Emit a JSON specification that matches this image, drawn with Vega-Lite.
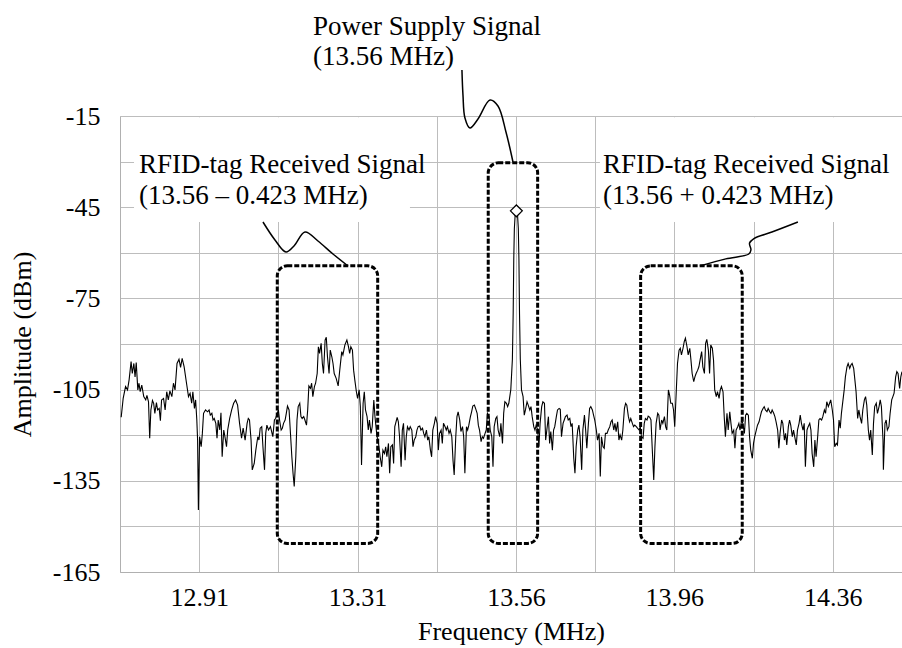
{
  "$schema": "https://vega.github.io/schema/vega-lite/v6.json",
  "width": 782,
  "height": 456,
  "autosize": "none",
  "padding": {"left": 120, "top": 116, "right": 0, "bottom": 76},
  "background": "white",
  "config": {
    "view": {"stroke": null},
    "font": "Liberation Serif",
    "axis": {
      "gridColor": "#bdbdbd",
      "gridWidth": 1,
      "domainColor": "#b0b0b0",
      "domainWidth": 1,
      "ticks": false,
      "tickSize": 0,
      "labelFont": "Liberation Serif",
      "labelFontSize": 26,
      "labelColor": "#000000",
      "titleFont": "Liberation Serif",
      "titleFontSize": 26,
      "titleFontWeight": "normal",
      "titleColor": "#000000",
      "labelOverlap": false,
      "labelFlush": false
    }
  },
  "datasets": {
    "trace": [
      {"freq":12.563,"amp":-114.1},{"freq":12.568,"amp":-107.9},{"freq":12.574,"amp":-104.0},{"freq":12.579,"amp":-105.1},{"freq":12.583,"amp":-101.8},{"freq":12.588,"amp":-95.8},{"freq":12.591,"amp":-99.7},{"freq":12.595,"amp":-96.4},{"freq":12.598,"amp":-100.8},{"freq":12.601,"amp":-96.1},
      {"freq":12.605,"amp":-105.1},{"freq":12.608,"amp":-102.9},{"freq":12.611,"amp":-105.7},{"freq":12.615,"amp":-103.5},{"freq":12.620,"amp":-107.3},{"freq":12.625,"amp":-108.4},{"freq":12.628,"amp":-106.9},{"freq":12.632,"amp":-109.0},{"freq":12.635,"amp":-121.0},{"freq":12.638,"amp":-111.7},
      {"freq":12.642,"amp":-108.6},{"freq":12.645,"amp":-109.5},{"freq":12.648,"amp":-112.8},{"freq":12.652,"amp":-109.3},{"freq":12.655,"amp":-111.7},{"freq":12.659,"amp":-111.2},{"freq":12.662,"amp":-115.2},{"freq":12.665,"amp":-108.4},{"freq":12.670,"amp":-107.9},{"freq":12.674,"amp":-111.7},
      {"freq":12.678,"amp":-105.7},{"freq":12.682,"amp":-108.4},{"freq":12.686,"amp":-105.4},{"freq":12.691,"amp":-107.3},{"freq":12.695,"amp":-102.9},{"freq":12.699,"amp":-105.1},{"freq":12.704,"amp":-96.4},{"freq":12.709,"amp":-95.0},{"freq":12.713,"amp":-97.7},{"freq":12.717,"amp":-94.7},
      {"freq":12.722,"amp":-97.5},{"freq":12.728,"amp":-102.9},{"freq":12.733,"amp":-107.3},{"freq":12.737,"amp":-106.2},{"freq":12.741,"amp":-109.5},{"freq":12.744,"amp":-105.7},{"freq":12.748,"amp":-111.2},{"freq":12.751,"amp":-108.4},{"freq":12.754,"amp":-115.0},{"freq":12.756,"amp":-121.6},
      {"freq":12.758,"amp":-144.6},{"freq":12.761,"amp":-120.5},{"freq":12.765,"amp":-123.8},{"freq":12.768,"amp":-119.4},{"freq":12.771,"amp":-112.8},{"freq":12.776,"amp":-111.7},{"freq":12.781,"amp":-112.3},{"freq":12.785,"amp":-111.7},{"freq":12.788,"amp":-113.4},{"freq":12.792,"amp":-112.8},
      {"freq":12.795,"amp":-115.0},{"freq":12.798,"amp":-114.5},{"freq":12.802,"amp":-116.1},{"freq":12.805,"amp":-121.0},{"freq":12.808,"amp":-115.0},{"freq":12.812,"amp":-118.3},{"freq":12.815,"amp":-112.6},{"freq":12.818,"amp":-127.1},{"freq":12.822,"amp":-118.3},{"freq":12.825,"amp":-120.5},
      {"freq":12.829,"amp":-123.8},{"freq":12.832,"amp":-118.3},{"freq":12.837,"amp":-114.5},{"freq":12.842,"amp":-111.7},{"freq":12.847,"amp":-109.5},{"freq":12.852,"amp":-108.4},{"freq":12.857,"amp":-110.1},{"freq":12.862,"amp":-116.1},{"freq":12.867,"amp":-121.0},{"freq":12.871,"amp":-117.7},
      {"freq":12.876,"amp":-121.6},{"freq":12.881,"amp":-116.1},{"freq":12.884,"amp":-114.5},{"freq":12.887,"amp":-115.0},{"freq":12.891,"amp":-121.6},{"freq":12.894,"amp":-131.4},{"freq":12.899,"amp":-129.3},{"freq":12.903,"amp":-124.9},{"freq":12.908,"amp":-120.5},{"freq":12.911,"amp":-121.6},
      {"freq":12.914,"amp":-117.7},{"freq":12.918,"amp":-117.2},{"freq":12.921,"amp":-123.8},{"freq":12.925,"amp":-131.4},{"freq":12.928,"amp":-119.4},{"freq":12.931,"amp":-116.7},{"freq":12.935,"amp":-118.3},{"freq":12.940,"amp":-117.2},{"freq":12.943,"amp":-118.8},{"freq":12.946,"amp":-120.5},
      {"freq":12.950,"amp":-115.0},{"freq":12.953,"amp":-114.5},{"freq":12.957,"amp":-112.8},{"freq":12.960,"amp":-111.7},{"freq":12.963,"amp":-115.0},{"freq":12.967,"amp":-118.3},{"freq":12.970,"amp":-117.7},{"freq":12.973,"amp":-116.1},{"freq":12.977,"amp":-115.0},{"freq":12.980,"amp":-112.8},
      {"freq":12.983,"amp":-110.4},{"freq":12.987,"amp":-111.7},{"freq":12.990,"amp":-118.3},{"freq":12.994,"amp":-127.1},{"freq":12.997,"amp":-132.5},{"freq":13.000,"amp":-136.9},{"freq":13.004,"amp":-127.1},{"freq":13.007,"amp":-115.0},{"freq":13.010,"amp":-110.6},{"freq":13.014,"amp":-109.5},
      {"freq":13.017,"amp":-113.9},{"freq":13.020,"amp":-114.5},{"freq":13.024,"amp":-113.9},{"freq":13.027,"amp":-115.0},{"freq":13.031,"amp":-116.7},{"freq":13.034,"amp":-111.7},{"freq":13.037,"amp":-103.8},{"freq":13.041,"amp":-104.6},{"freq":13.044,"amp":-102.9},{"freq":13.047,"amp":-107.3},
      {"freq":13.051,"amp":-104.0},{"freq":13.054,"amp":-102.9},{"freq":13.058,"amp":-99.7},{"freq":13.061,"amp":-90.9},{"freq":13.064,"amp":-93.1},{"freq":13.068,"amp":-89.8},{"freq":13.071,"amp":-96.4},{"freq":13.074,"amp":-99.7},{"freq":13.078,"amp":-88.7},{"freq":13.081,"amp":-87.8},
      {"freq":13.084,"amp":-94.2},{"freq":13.088,"amp":-99.7},{"freq":13.091,"amp":-92.0},{"freq":13.095,"amp":-94.2},{"freq":13.098,"amp":-96.4},{"freq":13.101,"amp":-99.7},{"freq":13.106,"amp":-101.3},{"freq":13.111,"amp":-103.8},{"freq":13.115,"amp":-98.6},{"freq":13.120,"amp":-92.5},
      {"freq":13.123,"amp":-93.6},{"freq":13.128,"amp":-90.3},{"freq":13.133,"amp":-88.7},{"freq":13.137,"amp":-90.9},{"freq":13.140,"amp":-93.1},{"freq":13.143,"amp":-90.9},{"freq":13.147,"amp":-92.0},{"freq":13.150,"amp":-98.6},{"freq":13.153,"amp":-101.8},{"freq":13.157,"amp":-105.7},
      {"freq":13.160,"amp":-107.9},{"freq":13.164,"amp":-105.1},{"freq":13.167,"amp":-110.6},{"freq":13.170,"amp":-129.8},{"freq":13.174,"amp":-109.5},{"freq":13.177,"amp":-105.7},{"freq":13.180,"amp":-111.7},{"freq":13.184,"amp":-113.9},{"freq":13.187,"amp":-118.3},{"freq":13.190,"amp":-115.0},
      {"freq":13.194,"amp":-119.4},{"freq":13.197,"amp":-117.2},{"freq":13.201,"amp":-108.4},{"freq":13.204,"amp":-113.9},{"freq":13.209,"amp":-120.5},{"freq":13.212,"amp":-121.6},{"freq":13.217,"amp":-127.1},{"freq":13.221,"amp":-130.4},{"freq":13.224,"amp":-124.9},{"freq":13.228,"amp":-126.0},
      {"freq":13.231,"amp":-123.8},{"freq":13.234,"amp":-127.1},{"freq":13.238,"amp":-122.7},{"freq":13.241,"amp":-132.5},{"freq":13.244,"amp":-123.8},{"freq":13.248,"amp":-123.2},{"freq":13.251,"amp":-129.3},{"freq":13.254,"amp":-117.2},{"freq":13.260,"amp":-114.1},{"freq":13.263,"amp":-115.6},
      {"freq":13.266,"amp":-120.5},{"freq":13.270,"amp":-130.4},{"freq":13.273,"amp":-118.3},{"freq":13.276,"amp":-116.1},{"freq":13.280,"amp":-128.2},{"freq":13.283,"amp":-120.5},{"freq":13.286,"amp":-117.2},{"freq":13.290,"amp":-118.3},{"freq":13.293,"amp":-117.2},{"freq":13.297,"amp":-118.3},
      {"freq":13.300,"amp":-123.8},{"freq":13.303,"amp":-121.6},{"freq":13.307,"amp":-120.5},{"freq":13.310,"amp":-118.3},{"freq":13.313,"amp":-117.2},{"freq":13.317,"amp":-117.0},{"freq":13.320,"amp":-118.3},{"freq":13.324,"amp":-117.7},{"freq":13.327,"amp":-119.4},{"freq":13.330,"amp":-120.5},
      {"freq":13.334,"amp":-118.3},{"freq":13.337,"amp":-121.6},{"freq":13.340,"amp":-120.5},{"freq":13.344,"amp":-124.9},{"freq":13.347,"amp":-127.1},{"freq":13.350,"amp":-118.3},{"freq":13.354,"amp":-116.1},{"freq":13.357,"amp":-113.9},{"freq":13.361,"amp":-116.1},{"freq":13.364,"amp":-124.9},
      {"freq":13.367,"amp":-119.4},{"freq":13.371,"amp":-118.3},{"freq":13.374,"amp":-122.7},{"freq":13.377,"amp":-116.1},{"freq":13.381,"amp":-117.2},{"freq":13.384,"amp":-118.3},{"freq":13.387,"amp":-117.2},{"freq":13.391,"amp":-119.4},{"freq":13.394,"amp":-118.3},{"freq":13.398,"amp":-120.5},
      {"freq":13.401,"amp":-128.2},{"freq":13.404,"amp":-133.1},{"freq":13.408,"amp":-120.5},{"freq":13.411,"amp":-113.9},{"freq":13.414,"amp":-112.3},{"freq":13.418,"amp":-115.0},{"freq":13.421,"amp":-118.8},{"freq":13.425,"amp":-117.2},{"freq":13.428,"amp":-120.5},{"freq":13.431,"amp":-132.5},
      {"freq":13.435,"amp":-117.2},{"freq":13.438,"amp":-118.3},{"freq":13.441,"amp":-116.7},{"freq":13.445,"amp":-113.9},{"freq":13.448,"amp":-112.3},{"freq":13.451,"amp":-110.4},{"freq":13.455,"amp":-110.1},{"freq":13.458,"amp":-111.2},{"freq":13.462,"amp":-112.8},{"freq":13.465,"amp":-116.7},
      {"freq":13.468,"amp":-118.3},{"freq":13.472,"amp":-122.1},{"freq":13.475,"amp":-120.5},{"freq":13.478,"amp":-121.0},{"freq":13.482,"amp":-119.4},{"freq":13.485,"amp":-118.3},{"freq":13.488,"amp":-112.8},{"freq":13.492,"amp":-113.9},{"freq":13.495,"amp":-118.3},{"freq":13.499,"amp":-120.5},
      {"freq":13.502,"amp":-130.4},{"freq":13.505,"amp":-117.2},{"freq":13.509,"amp":-114.5},{"freq":13.512,"amp":-113.9},{"freq":13.515,"amp":-118.3},{"freq":13.519,"amp":-120.5},{"freq":13.522,"amp":-116.1},{"freq":13.526,"amp":-122.7},{"freq":13.529,"amp":-112.8},{"freq":13.532,"amp":-109.0},
      {"freq":13.536,"amp":-109.5},{"freq":13.539,"amp":-110.6},{"freq":13.542,"amp":-109.5},{"freq":13.547,"amp":-105.0},{"freq":13.551,"amp":-95.0},{"freq":13.553,"amp":-80.0},{"freq":13.5545,"amp":-62.0},{"freq":13.556,"amp":-52.0},{"freq":13.558,"amp":-47.5},{"freq":13.561,"amp":-46.0},
      {"freq":13.564,"amp":-47.5},{"freq":13.566,"amp":-52.0},{"freq":13.5675,"amp":-62.0},{"freq":13.569,"amp":-80.0},{"freq":13.571,"amp":-95.0},{"freq":13.574,"amp":-105.1},{"freq":13.578,"amp":-107.3},{"freq":13.581,"amp":-113.4},{"freq":13.584,"amp":-111.7},{"freq":13.588,"amp":-109.0},
      {"freq":13.591,"amp":-110.1},{"freq":13.595,"amp":-111.7},{"freq":13.598,"amp":-110.6},{"freq":13.601,"amp":-113.9},{"freq":13.605,"amp":-117.2},{"freq":13.608,"amp":-118.3},{"freq":13.611,"amp":-116.7},{"freq":13.615,"amp":-118.3},{"freq":13.618,"amp":-123.8},{"freq":13.621,"amp":-116.1},
      {"freq":13.625,"amp":-110.6},{"freq":13.628,"amp":-109.0},{"freq":13.632,"amp":-109.5},{"freq":13.635,"amp":-121.6},{"freq":13.638,"amp":-118.3},{"freq":13.642,"amp":-113.9},{"freq":13.645,"amp":-122.7},{"freq":13.648,"amp":-118.8},{"freq":13.652,"amp":-124.9},{"freq":13.655,"amp":-118.3},
      {"freq":13.658,"amp":-117.2},{"freq":13.662,"amp":-113.9},{"freq":13.665,"amp":-111.7},{"freq":13.669,"amp":-111.2},{"freq":13.672,"amp":-111.5},{"freq":13.675,"amp":-120.5},{"freq":13.679,"amp":-116.1},{"freq":13.682,"amp":-115.0},{"freq":13.685,"amp":-113.9},{"freq":13.689,"amp":-113.4},
      {"freq":13.692,"amp":-115.0},{"freq":13.696,"amp":-114.5},{"freq":13.699,"amp":-117.2},{"freq":13.702,"amp":-116.1},{"freq":13.706,"amp":-127.6},{"freq":13.709,"amp":-132.5},{"freq":13.712,"amp":-123.8},{"freq":13.716,"amp":-118.3},{"freq":13.719,"amp":-116.7},{"freq":13.722,"amp":-120.5},
      {"freq":13.726,"amp":-131.4},{"freq":13.729,"amp":-118.3},{"freq":13.733,"amp":-113.4},{"freq":13.736,"amp":-118.3},{"freq":13.739,"amp":-124.3},{"freq":13.743,"amp":-116.1},{"freq":13.746,"amp":-111.2},{"freq":13.749,"amp":-110.6},{"freq":13.753,"amp":-111.7},{"freq":13.756,"amp":-113.4},
      {"freq":13.759,"amp":-115.0},{"freq":13.763,"amp":-118.3},{"freq":13.766,"amp":-121.6},{"freq":13.770,"amp":-119.4},{"freq":13.773,"amp":-133.6},{"freq":13.776,"amp":-120.5},{"freq":13.780,"amp":-123.8},{"freq":13.783,"amp":-124.3},{"freq":13.786,"amp":-119.4},{"freq":13.790,"amp":-119.4},
      {"freq":13.793,"amp":-118.3},{"freq":13.797,"amp":-117.2},{"freq":13.800,"amp":-115.6},{"freq":13.803,"amp":-115.0},{"freq":13.807,"amp":-118.3},{"freq":13.810,"amp":-116.1},{"freq":13.813,"amp":-118.8},{"freq":13.817,"amp":-115.6},{"freq":13.820,"amp":-121.6},{"freq":13.823,"amp":-119.9},
      {"freq":13.827,"amp":-121.6},{"freq":13.830,"amp":-118.3},{"freq":13.834,"amp":-111.2},{"freq":13.837,"amp":-109.5},{"freq":13.840,"amp":-110.1},{"freq":13.844,"amp":-113.9},{"freq":13.847,"amp":-115.6},{"freq":13.850,"amp":-114.5},{"freq":13.854,"amp":-116.1},{"freq":13.857,"amp":-117.2},
      {"freq":13.860,"amp":-116.7},{"freq":13.864,"amp":-117.2},{"freq":13.867,"amp":-117.7},{"freq":13.871,"amp":-118.3},{"freq":13.874,"amp":-117.2},{"freq":13.877,"amp":-120.5},{"freq":13.881,"amp":-121.0},{"freq":13.884,"amp":-116.1},{"freq":13.887,"amp":-114.5},{"freq":13.891,"amp":-115.0},
      {"freq":13.894,"amp":-113.7},{"freq":13.898,"amp":-114.1},{"freq":13.901,"amp":-115.0},{"freq":13.904,"amp":-123.8},{"freq":13.908,"amp":-134.7},{"freq":13.911,"amp":-123.8},{"freq":13.914,"amp":-116.1},{"freq":13.918,"amp":-112.8},{"freq":13.921,"amp":-113.4},{"freq":13.924,"amp":-118.3},
      {"freq":13.928,"amp":-115.0},{"freq":13.931,"amp":-116.1},{"freq":13.935,"amp":-113.9},{"freq":13.938,"amp":-117.2},{"freq":13.941,"amp":-118.3},{"freq":13.945,"amp":-105.1},{"freq":13.948,"amp":-106.8},{"freq":13.951,"amp":-109.5},{"freq":13.955,"amp":-109.5},{"freq":13.958,"amp":-111.7},
      {"freq":13.961,"amp":-117.2},{"freq":13.965,"amp":-105.1},{"freq":13.968,"amp":-96.4},{"freq":13.972,"amp":-92.0},{"freq":13.975,"amp":-91.4},{"freq":13.978,"amp":-93.6},{"freq":13.982,"amp":-91.4},{"freq":13.985,"amp":-89.2},{"freq":13.988,"amp":-88.1},{"freq":13.992,"amp":-90.9},
      {"freq":13.995,"amp":-93.6},{"freq":13.999,"amp":-91.4},{"freq":14.002,"amp":-95.3},{"freq":14.005,"amp":-99.7},{"freq":14.009,"amp":-102.4},{"freq":14.012,"amp":-100.8},{"freq":14.015,"amp":-99.7},{"freq":14.019,"amp":-98.6},{"freq":14.022,"amp":-97.5},{"freq":14.025,"amp":-95.3},
      {"freq":14.029,"amp":-92.5},{"freq":14.032,"amp":-97.5},{"freq":14.036,"amp":-99.7},{"freq":14.039,"amp":-89.8},{"freq":14.042,"amp":-88.5},{"freq":14.046,"amp":-92.0},{"freq":14.049,"amp":-99.7},{"freq":14.052,"amp":-90.3},{"freq":14.056,"amp":-91.4},{"freq":14.059,"amp":-95.3},
      {"freq":14.062,"amp":-105.1},{"freq":14.066,"amp":-107.3},{"freq":14.069,"amp":-105.7},{"freq":14.073,"amp":-107.9},{"freq":14.076,"amp":-105.1},{"freq":14.079,"amp":-104.0},{"freq":14.083,"amp":-105.7},{"freq":14.086,"amp":-113.9},{"freq":14.089,"amp":-120.5},{"freq":14.093,"amp":-112.8},
      {"freq":14.096,"amp":-118.3},{"freq":14.100,"amp":-112.3},{"freq":14.103,"amp":-116.1},{"freq":14.106,"amp":-119.4},{"freq":14.110,"amp":-118.3},{"freq":14.113,"amp":-124.3},{"freq":14.116,"amp":-118.3},{"freq":14.120,"amp":-117.2},{"freq":14.123,"amp":-116.1},{"freq":14.126,"amp":-118.3},
      {"freq":14.130,"amp":-115.0},{"freq":14.133,"amp":-116.1},{"freq":14.137,"amp":-119.4},{"freq":14.140,"amp":-113.4},{"freq":14.143,"amp":-112.8},{"freq":14.147,"amp":-113.4},{"freq":14.150,"amp":-120.5},{"freq":14.153,"amp":-124.9},{"freq":14.157,"amp":-127.6},{"freq":14.160,"amp":-122.7},
      {"freq":14.163,"amp":-120.5},{"freq":14.167,"amp":-118.3},{"freq":14.170,"amp":-116.7},{"freq":14.174,"amp":-115.6},{"freq":14.177,"amp":-113.9},{"freq":14.180,"amp":-112.3},{"freq":14.184,"amp":-111.2},{"freq":14.187,"amp":-110.6},{"freq":14.190,"amp":-111.7},{"freq":14.194,"amp":-112.3},
      {"freq":14.197,"amp":-111.2},{"freq":14.201,"amp":-112.3},{"freq":14.204,"amp":-112.8},{"freq":14.207,"amp":-111.7},{"freq":14.211,"amp":-112.8},{"freq":14.214,"amp":-113.9},{"freq":14.217,"amp":-115.6},{"freq":14.221,"amp":-118.3},{"freq":14.224,"amp":-124.3},{"freq":14.227,"amp":-119.4},
      {"freq":14.231,"amp":-115.0},{"freq":14.234,"amp":-116.1},{"freq":14.238,"amp":-121.6},{"freq":14.241,"amp":-119.4},{"freq":14.244,"amp":-123.2},{"freq":14.248,"amp":-117.2},{"freq":14.251,"amp":-115.0},{"freq":14.254,"amp":-116.7},{"freq":14.258,"amp":-120.5},{"freq":14.261,"amp":-118.3},
      {"freq":14.264,"amp":-120.5},{"freq":14.268,"amp":-123.2},{"freq":14.271,"amp":-118.3},{"freq":14.275,"amp":-116.1},{"freq":14.278,"amp":-113.4},{"freq":14.281,"amp":-116.1},{"freq":14.285,"amp":-118.3},{"freq":14.288,"amp":-116.1},{"freq":14.291,"amp":-130.4},{"freq":14.295,"amp":-118.3},
      {"freq":14.298,"amp":-117.2},{"freq":14.302,"amp":-116.1},{"freq":14.305,"amp":-118.3},{"freq":14.308,"amp":-126.0},{"freq":14.312,"amp":-130.4},{"freq":14.315,"amp":-121.6},{"freq":14.318,"amp":-127.1},{"freq":14.322,"amp":-120.5},{"freq":14.325,"amp":-115.0},{"freq":14.328,"amp":-114.5},
      {"freq":14.332,"amp":-115.0},{"freq":14.335,"amp":-113.9},{"freq":14.339,"amp":-111.7},{"freq":14.342,"amp":-112.8},{"freq":14.345,"amp":-109.0},{"freq":14.349,"amp":-110.6},{"freq":14.352,"amp":-109.5},{"freq":14.355,"amp":-108.4},{"freq":14.359,"amp":-111.7},{"freq":14.362,"amp":-115.0},
      {"freq":14.365,"amp":-123.8},{"freq":14.369,"amp":-122.7},{"freq":14.372,"amp":-123.2},{"freq":14.376,"amp":-115.0},{"freq":14.379,"amp":-117.7},{"freq":14.382,"amp":-112.8},{"freq":14.386,"amp":-108.4},{"freq":14.389,"amp":-105.1},{"freq":14.392,"amp":-100.8},{"freq":14.396,"amp":-97.5},
      {"freq":14.399,"amp":-96.4},{"freq":14.403,"amp":-98.0},{"freq":14.406,"amp":-96.9},{"freq":14.409,"amp":-96.4},{"freq":14.413,"amp":-98.0},{"freq":14.416,"amp":-101.8},{"freq":14.419,"amp":-105.7},{"freq":14.423,"amp":-114.5},{"freq":14.426,"amp":-111.7},{"freq":14.429,"amp":-113.9},
      {"freq":14.433,"amp":-116.1},{"freq":14.436,"amp":-111.7},{"freq":14.440,"amp":-108.4},{"freq":14.443,"amp":-107.3},{"freq":14.446,"amp":-110.1},{"freq":14.450,"amp":-118.3},{"freq":14.453,"amp":-121.6},{"freq":14.456,"amp":-118.3},{"freq":14.460,"amp":-126.5},{"freq":14.463,"amp":-116.1},
      {"freq":14.466,"amp":-110.6},{"freq":14.470,"amp":-109.5},{"freq":14.473,"amp":-112.8},{"freq":14.477,"amp":-110.6},{"freq":14.480,"amp":-108.4},{"freq":14.483,"amp":-110.6},{"freq":14.487,"amp":-121.6},{"freq":14.488,"amp":-131.4},{"freq":14.492,"amp":-116.1},{"freq":14.495,"amp":-115.0},
      {"freq":14.498,"amp":-118.3},{"freq":14.502,"amp":-117.2},{"freq":14.505,"amp":-112.8},{"freq":14.509,"amp":-108.4},{"freq":14.512,"amp":-107.3},{"freq":14.515,"amp":-106.2},{"freq":14.519,"amp":-100.8},{"freq":14.522,"amp":-99.1},{"freq":14.525,"amp":-99.7},{"freq":14.529,"amp":-104.6},
      {"freq":14.532,"amp":-100.8},{"freq":14.535,"amp":-99.1}
    ],
    "covers": [
      {"x1": 12.5954, "x2": 13.2923, "y1": -15.4, "y2": -49.9},
      {"x1": 13.7721, "x2": 14.535, "y1": -15.4, "y2": -49.9}
    ],
    "boxes": [
      {"x1": 12.9572, "x2": 13.2108, "y1": -64.3, "y2": -155.6},
      {"x1": 13.4900, "x2": 13.6148, "y1": -30.4, "y2": -155.6},
      {"x1": 13.8749, "x2": 14.1315, "y1": -64.3, "y2": -155.6}
    ],
    "leaders": [
      {"g": "left", "i": 1, "x": 12.9211, "y": -49.87},
      {"g": "left", "i": 2, "x": 12.9514, "y": -55.79},
      {"g": "left", "i": 3, "x": 12.9792, "y": -59.74},
      {"g": "left", "i": 4, "x": 12.9994, "y": -57.76},
      {"g": "left", "i": 5, "x": 13.0272, "y": -53.16},
      {"g": "left", "i": 6, "x": 13.0600, "y": -56.12},
      {"g": "left", "i": 7, "x": 13.0979, "y": -60.40},
      {"g": "left", "i": 8, "x": 13.1358, "y": -64.34},
      {"g": "center", "i": 1, "x": 13.4236, "y": 0.13},
      {"g": "center", "i": 2, "x": 13.4262, "y": -8.09},
      {"g": "center", "i": 3, "x": 13.4312, "y": -15.66},
      {"g": "center", "i": 4, "x": 13.4438, "y": -18.95},
      {"g": "center", "i": 5, "x": 13.4641, "y": -15.99},
      {"g": "center", "i": 6, "x": 13.4944, "y": -9.74},
      {"g": "center", "i": 7, "x": 13.5146, "y": -11.71},
      {"g": "center", "i": 8, "x": 13.5348, "y": -20.26},
      {"g": "center", "i": 9, "x": 13.5525, "y": -30.13},
      {"g": "right", "i": 1, "x": 14.2721, "y": -49.87},
      {"g": "right", "i": 2, "x": 14.2065, "y": -53.16},
      {"g": "right", "i": 3, "x": 14.1610, "y": -55.30},
      {"g": "right", "i": 4, "x": 14.1500, "y": -56.80},
      {"g": "right", "i": 5, "x": 14.1535, "y": -59.08},
      {"g": "right", "i": 6, "x": 14.1480, "y": -60.40},
      {"g": "right", "i": 7, "x": 14.0900, "y": -62.00},
      {"g": "right", "i": 8, "x": 14.0247, "y": -64.34}
    ],
    "marker": [
      {"freq": 13.561, "amp": -46.2}
    ],
    "labels": [
      {"x": 13.0474, "y": 14.3, "t": "Power Supply Signal"},
      {"x": 13.0474, "y": 4.4, "t": "(13.56 MHz)"},
      {"x": 12.6080, "y": -31.1, "t": "RFID-tag Received Signal"},
      {"x": 12.6080, "y": -41.3, "t": "(13.56 – 0.423 MHz)"},
      {"x": 13.7797, "y": -31.1, "t": "RFID-tag Received Signal"},
      {"x": 13.7797, "y": -41.3, "t": "(13.56 + 0.423 MHz)"}
    ]
  },
  "layer": [
    {
      "data": {"name": "covers"},
      "mark": {"type": "rect", "fill": "white", "stroke": null},
      "encoding": {
        "x": {
          "field": "x1", "type": "quantitative",
          "scale": {"domain": [12.56, 14.535], "nice": false, "zero": false},
          "axis": {
            "title": "Frequency (MHz)",
            "values": [12.56, 12.76, 12.96, 13.16, 13.36, 13.56, 13.76, 13.96, 14.16, 14.36],
            "labelExpr": "abs(datum.value-12.76)<0.01 ? '12.91' : abs(datum.value-13.16)<0.01 ? '13.31' : abs(datum.value-13.56)<0.01 ? '13.56' : abs(datum.value-13.96)<0.01 ? '13.96' : abs(datum.value-14.36)<0.01 ? '14.36' : ''",
            "labelPadding": 12,
            "titlePadding": 8,
            "grid": true
          }
        },
        "x2": {"field": "x2"},
        "y": {
          "field": "y1", "type": "quantitative",
          "scale": {"domain": [-165, -15], "nice": false, "zero": false},
          "axis": {
            "title": "Amplitude (dBm)",
            "values": [-165, -150, -135, -120, -105, -90, -75, -60, -45, -30, -15],
            "labelExpr": "datum.value % 30 == -15 ? '-' + abs(datum.value) : ''",
            "labelPadding": 20,
            "titlePadding": 17,
            "grid": true
          }
        },
        "y2": {"field": "y2"}
      }
    },
    {
      "data": {"name": "boxes"},
      "mark": {"type": "rect", "filled": false, "stroke": "#000000", "strokeWidth": 3, "strokeDash": [5, 2], "cornerRadius": 10},
      "encoding": {
        "x": {"field": "x1", "type": "quantitative"},
        "x2": {"field": "x2"},
        "y": {"field": "y1", "type": "quantitative"},
        "y2": {"field": "y2"}
      }
    },
    {
      "data": {"name": "trace"},
      "mark": {"type": "line", "stroke": "#000000", "strokeWidth": 1.1},
      "encoding": {
        "x": {"field": "freq", "type": "quantitative"},
        "y": {"field": "amp", "type": "quantitative"}
      }
    },
    {
      "data": {"name": "leaders"},
      "mark": {"type": "line", "stroke": "#000000", "strokeWidth": 1.5, "interpolate": "catmull-rom"},
      "encoding": {
        "x": {"field": "x", "type": "quantitative"},
        "y": {"field": "y", "type": "quantitative"},
        "detail": {"field": "g"},
        "order": {"field": "i", "type": "quantitative"}
      }
    },
    {
      "data": {"name": "marker"},
      "mark": {"type": "point", "shape": "diamond", "size": 140, "filled": true, "fill": "white", "stroke": "#000000", "strokeWidth": 1.3, "opacity": 1},
      "encoding": {
        "x": {"field": "freq", "type": "quantitative"},
        "y": {"field": "amp", "type": "quantitative"}
      }
    },
    {
      "data": {"name": "labels"},
      "mark": {"type": "text", "align": "left", "baseline": "middle", "font": "Liberation Serif", "fontSize": 27, "color": "#000000"},
      "encoding": {
        "x": {"field": "x", "type": "quantitative"},
        "y": {"field": "y", "type": "quantitative"},
        "text": {"field": "t"}
      }
    }
  ]
}
